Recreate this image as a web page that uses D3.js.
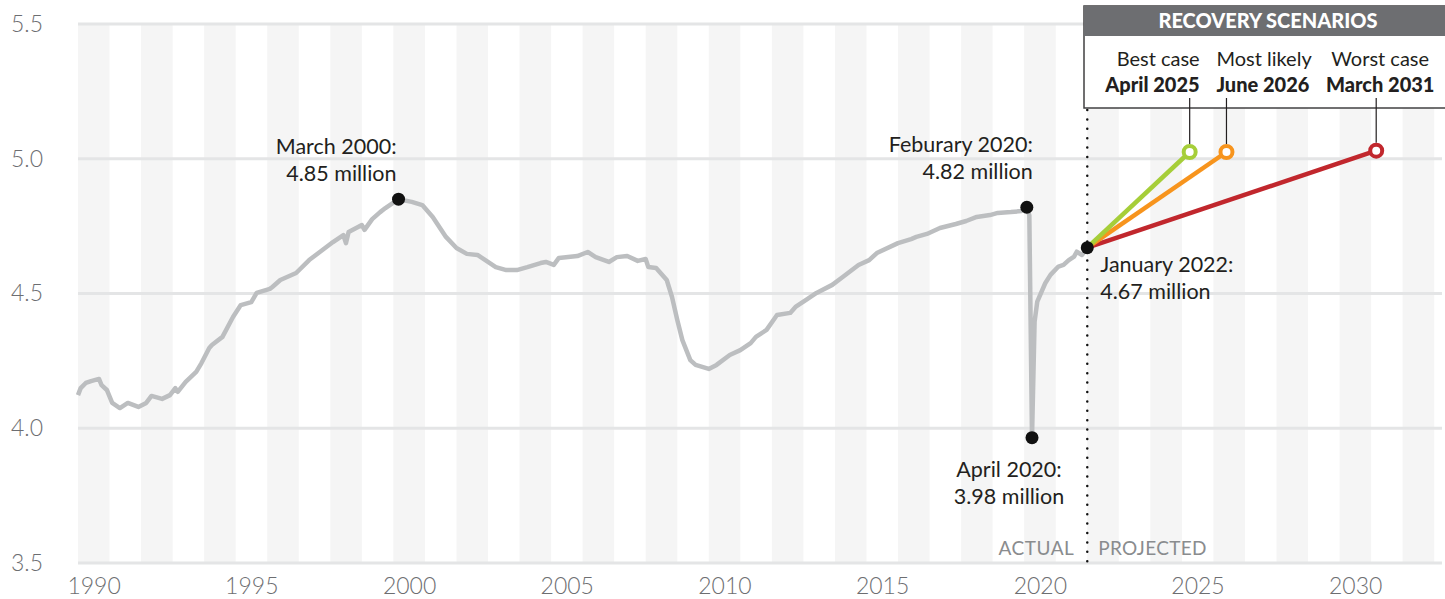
<!DOCTYPE html>
<html lang="en">
<head>
<meta charset="UTF-8">
<title>Recovery scenarios</title>
<script src="https://d3js.org/d3.v7.min.js"></script>
<style>
  body { margin: 0; background: #fff; }
  svg text { font-family: Lato, "Open Sans", sans-serif; }
</style>
</head>
<body>
<div id="chart"></div>
<script>
// monthly readings (millions)
const actualDates = [
  "1990-01","1990-02","1990-04","1990-06","1990-09","1990-10","1990-12",
  "1991-02","1991-05","1991-08","1991-12","1992-03","1992-05","1992-09","1992-12",
  "1993-02","1993-03","1993-06","1993-10","1993-12","1994-03","1994-04","1994-08","1994-12",
  "1995-03","1995-07","1995-09","1996-02","1996-03","1996-06","1996-12",
  "1997-05","1997-09","1998-02","1998-06","1998-07","1998-08","1999-01","1999-02","1999-05","1999-08","1999-10",
  "2000-03","2000-08","2000-12","2001-04","2001-09","2002-01","2002-05","2002-09","2002-12",
  "2003-04","2003-08","2003-12","2004-04","2004-09","2004-11","2005-02","2005-04","2005-11",
  "2006-03","2006-06","2006-11","2007-02","2007-06","2007-10","2008-01","2008-02","2008-05","2008-09","2008-11",
  "2009-01","2009-03","2009-06","2009-08","2010-01","2010-04","2010-09","2011-01","2011-05","2011-07","2011-11",
  "2012-03","2012-08","2012-10","2013-02","2013-06","2013-12","2014-04","2014-10","2015-02","2015-05",
  "2016-01","2016-06","2016-08","2016-12","2017-05","2017-11","2018-03","2018-07","2018-12",
  "2019-03","2019-08","2019-12","2020-02","2020-03","2020-04","2020-05","2020-06","2020-09","2020-11",
  "2021-02","2021-04","2021-06","2021-08","2021-09","2021-11","2022-01"
];
const actualValues = [
  4.123,4.149,4.168,4.175,4.183,4.160,4.142,
  4.094,4.075,4.094,4.079,4.094,4.120,4.109,4.123,
  4.149,4.135,4.172,4.209,4.242,4.298,4.309,4.339,4.413,
  4.457,4.468,4.502,4.517,4.524,4.550,4.576,
  4.624,4.654,4.691,4.717,4.687,4.728,4.754,4.736,4.776,4.802,4.817,
  4.850,4.840,4.828,4.784,4.710,4.669,4.647,4.643,4.624,
  4.598,4.587,4.587,4.598,4.613,4.617,4.606,4.632,4.639,
  4.654,4.635,4.617,4.635,4.639,4.621,4.628,4.598,4.595,4.550,4.487,
  4.402,4.327,4.253,4.235,4.220,4.235,4.272,4.290,4.316,4.339,4.365,
  4.420,4.428,4.450,4.476,4.502,4.532,4.561,4.606,4.624,4.650,
  4.687,4.702,4.710,4.721,4.743,4.758,4.769,4.784,4.791,
  4.799,4.802,4.806,4.820,4.790,3.965,4.395,4.470,4.538,4.569,
  4.600,4.606,4.624,4.637,4.655,4.643,4.670
];

const highlightDates = ["2000-03", "2020-02", "2020-04", "2022-01"];
const highlightTitles = ["March 2000:", "Feburary 2020:", "April 2020:", "January 2022:"];
const highlightAmounts = ["4.85 million", "4.82 million", "3.98 million", "4.67 million"];

const scenarioNames = ["Best case", "Most likely", "Worst case"];
const scenarioDates = ["2025-04", "2026-06", "2031-03"];
const scenarioValues = [5.025, 5.025, 5.03];
const scenarioLabels = ["April 2025", "June 2026", "March 2031"];

const yTicks = [3.5, 4.0, 4.5, 5.0, 5.5];
const xTickYears = [1990, 1995, 2000, 2005, 2010, 2015, 2020, 2025, 2030];

const width = 1445, height = 599;
const parse = d3.timeParse("%Y-%m");
const scenarioColors = ["#a6ce39", "#f7941d", "#c1272d"];

const x = d3.scaleTime()
  .domain([new Date(1990, 0, 1), new Date(2033, 3, 1)])
  .range([78, 1442]);
const y = d3.scaleLinear().domain([3.5, 5.5]).range([563, 24]);

const svg = d3.select("#chart").append("svg")
  .attr("width", width)
  .attr("height", height);

// year stripes
const stripeYears = d3.range(1990, 2034).filter(yr => yr % 2 === 0);
svg.append("g").selectAll("rect")
  .data(stripeYears)
  .join("rect")
  .attr("x", yr => x(new Date(yr, 0, 1)))
  .attr("width", yr => Math.min(x(new Date(yr + 1, 0, 1)), 1442) - x(new Date(yr, 0, 1)))
  .attr("y", y(5.5))
  .attr("height", y(3.5) - y(5.5))
  .attr("fill", "#f5f5f5");

// gridlines
svg.append("g").selectAll("line")
  .data(yTicks)
  .join("line")
  .attr("x1", 78).attr("x2", 1442)
  .attr("y1", d => y(d)).attr("y2", d => y(d))
  .attr("stroke", "#e4e5e6")
  .attr("stroke-width", 3);

// axes
const xAxis = svg.append("g")
  .attr("transform", `translate(0,${y(3.5)})`)
  .call(d3.axisBottom(x)
    .tickValues(xTickYears.map(yr => new Date(yr, 6, 1)))
    .tickSize(0).tickPadding(15)
    .tickFormat(d3.timeFormat("%Y")));
const yAxis = svg.append("g")
  .attr("transform", "translate(78,0)")
  .call(d3.axisLeft(y).tickValues(yTicks).tickSize(0).tickPadding(35).tickFormat(d3.format(".1f")));
[xAxis, yAxis].forEach(g => {
  g.select(".domain").remove();
  g.attr("font-family", null).attr("font-size", null);
  g.selectAll("text")
    .attr("font-size", 23)
    .attr("font-weight", 300)
    .attr("fill", "#6d6e71");
});

// actual / projected divider
const split = parse("2022-01");
svg.append("line")
  .attr("x1", x(split)).attr("x2", x(split))
  .attr("y1", 110).attr("y2", y(3.5))
  .attr("stroke", "#111")
  .attr("stroke-width", 2.5)
  .attr("stroke-linecap", "round")
  .attr("stroke-dasharray", "0,9.4");
svg.append("text")
  .attr("x", x(split) - 13).attr("y", 555)
  .attr("text-anchor", "end")
  .attr("font-size", 19).attr("fill", "#8a8c8e")
  .attr("letter-spacing", 0.5)
  .text("ACTUAL");
svg.append("text")
  .attr("x", x(split) + 11).attr("y", 555)
  .attr("font-size", 19).attr("fill", "#8a8c8e")
  .attr("letter-spacing", 0.3)
  .text("PROJECTED");

// actual line
const actual = actualDates.map((d, i) => ({ date: parse(d), value: actualValues[i] }));
const line = d3.line().x(d => x(d.date)).y(d => y(d.value));
svg.append("path")
  .datum(actual)
  .attr("d", line)
  .attr("fill", "none")
  .attr("stroke", "#bcbec0")
  .attr("stroke-width", 4.5)
  .attr("stroke-linejoin", "round");

// scenario lines
const start = actual[actual.length - 1];
const scenarios = scenarioNames.map((n, i) => ({
  name: n, label: scenarioLabels[i], date: parse(scenarioDates[i]),
  value: scenarioValues[i], color: scenarioColors[i]
}));
svg.append("g").selectAll("line")
  .data(scenarios.slice().reverse())
  .join("line")
  .attr("x1", x(start.date)).attr("y1", y(start.value))
  .attr("x2", d => x(d.date)).attr("y2", d => y(d.value))
  .attr("stroke", d => d.color)
  .attr("stroke-width", 4.5);

// legend box
const box = svg.append("g");
box.append("rect")
  .attr("x", 1084).attr("y", 6).attr("width", 380).attr("height", 102)
  .attr("fill", "#fff").attr("stroke", "#414042").attr("stroke-width", 1.5);
box.append("rect")
  .attr("x", 1084).attr("y", 6).attr("width", 380).attr("height", 30)
  .attr("fill", "#6d6e71");
box.append("text")
  .attr("x", 1268).attr("y", 28)
  .attr("text-anchor", "middle")
  .attr("font-size", 20).attr("font-weight", 900).attr("fill", "#fff")
  .text("RECOVERY SCENARIOS");

const anchors = ["end", "start", "middle"];
const shifts = [10, -10, 4];
scenarios.forEach((s, i) => {
  const cx = x(s.date);
  svg.append("line")
    .attr("x1", cx).attr("x2", cx)
    .attr("y1", 98).attr("y2", y(s.value) - 8)
    .attr("stroke", "#231f20").attr("stroke-width", 1.2);
  svg.append("text")
    .attr("x", cx + shifts[i]).attr("y", 66)
    .attr("text-anchor", anchors[i])
    .attr("font-size", 20).attr("fill", "#231f20")
    .text(s.name);
  svg.append("text")
    .attr("x", cx + shifts[i]).attr("y", 92)
    .attr("text-anchor", anchors[i])
    .attr("font-size", 20).attr("font-weight", 900).attr("fill", "#231f20")
    .text(s.label);
  svg.append("circle")
    .attr("cx", cx).attr("cy", y(s.value)).attr("r", 6)
    .attr("fill", "#fff").attr("stroke", s.color).attr("stroke-width", 4);
});

// highlighted points
const highlights = highlightDates.map((d, i) => ({
  date: parse(d),
  value: actualValues[actualDates.indexOf(d)],
  title: highlightTitles[i],
  amount: highlightAmounts[i]
}));
svg.append("g").selectAll("circle")
  .data(highlights)
  .join("circle")
  .attr("cx", d => x(d.date)).attr("cy", d => y(d.value))
  .attr("r", 6.5).attr("fill", "#111");

const labelPos = [
  { dx: -2, dy: -45, anchor: "end" },
  { dx: 6, dy: -55, anchor: "end" },
  { dx: -23, dy: 39, anchor: "middle" },
  { dx: 13, dy: 24, anchor: "start" }
];
highlights.forEach((h, i) => {
  const p = labelPos[i];
  const t = svg.append("text")
    .attr("text-anchor", p.anchor)
    .attr("font-size", 21.5).attr("fill", "#231f20");
  t.append("tspan").attr("x", x(h.date) + p.dx).attr("y", y(h.value) + p.dy).text(h.title);
  t.append("tspan").attr("x", x(h.date) + p.dx).attr("y", y(h.value) + p.dy + 27).text(h.amount);
});
</script>
</body>
</html>
